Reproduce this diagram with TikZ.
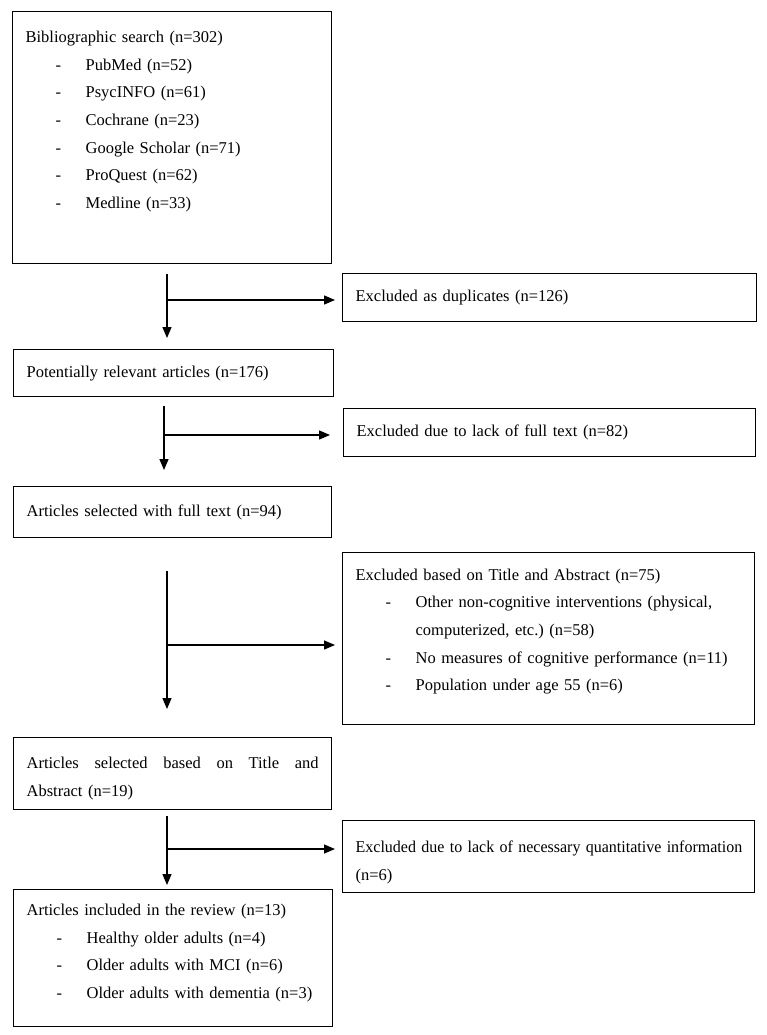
\documentclass[tikz,border=0pt]{standalone}
\usepackage{fontspec}
\setmainfont{Liberation Serif}
\usetikzlibrary{arrows.meta}
\frenchspacing

\newcommand{\listline}[1]{\hspace*{30pt}\makebox[30pt][l]{-}#1}

\tikzset{
	box/.style={draw, line width=1.3pt, anchor=north west, align=left,
		inner xsep=13pt, inner ysep=0pt,
		font=\fontsize{16.5}{27.7}\selectfont},
	flow/.style={line width=1.3pt, -{Triangle[length=11pt,width=9pt]}}
}

\begin{document}
\begin{tikzpicture}[x=1pt, y=-1pt]
	\useasboundingbox (0,0) rectangle (767,1035);

	% left column
	\node[box, text width=293pt, minimum height=252pt] (search) at (12,11) {Bibliographic search (n=302)\\
		\listline{PubMed (n=52)}\\
		\listline{PsycINFO (n=61)}\\
		\listline{Cochrane (n=23)}\\
		\listline{Google Scholar (n=71)}\\
		\listline{ProQuest (n=62)}\\
		\listline{Medline (n=33)}\\[8pt]
		\mbox{}};
	\node[box, text width=294pt, minimum height=47pt] (relevant) at (13,349) {Potentially relevant articles (n=176)};
	\node[box, text width=292pt, minimum height=51pt] (selected) at (13,486) {Articles selected with full text (n=94)};
	\node[box, text width=292pt, minimum height=72pt] (titleabs) at (13,737) {\mbox{}\\[-6pt]
		Articles\hfill selected\hfill based\hfill on\hfill Title\hfill and\\
		Abstract (n=19)};
	\node[box, text width=293pt, minimum height=137pt] (included) at (13,889) {Articles included in the review (n=13)\\
		\listline{Healthy older adults (n=4)}\\
		\listline{Older adults with MCI (n=6)}\\
		\listline{Older adults with dementia (n=3)}\\[-14pt]
		\mbox{}};

	% right column
	\node[box, text width=388pt, minimum height=48pt] (duplicates) at (342,273) {Excluded as duplicates (n=126)};
	\node[box, text width=386pt, minimum height=48pt] (nofull) at (343,408) {Excluded due to lack of full text (n=82)};
	\node[box, text width=386pt, minimum height=172pt] (excltitle) at (342,552) {Excluded based on Title and Abstract (n=75)\\
		\listline{Other non-cognitive interventions (physical,}\\
		\hspace*{60pt}computerized, etc.) (n=58)\\
		\listline{No measures of cognitive performance (n=11)}\\
		\listline{Population under age 55 (n=6)}\\[-10pt]
		\mbox{}};
	\node[box, text width=386pt, minimum height=72pt] (exclquant) at (342,820) {\mbox{}\\[-4pt]
		\scalebox{0.97}[1]{Excluded due to lack of necessary quantitative information}\\
		(n=6)};

	% branch points
	\coordinate (t1) at (167,300);
	\coordinate (t2) at (164,435);
	\coordinate (t3) at (167,645);
	\coordinate (t4) at (167,849);

	\draw[flow, shorten <=10pt, shorten >=11pt] (search.south -| t1) -- (relevant.north -| t1);
	\draw[flow, shorten >=7pt] (t1) -- (t1 -| duplicates.west);

	\draw[flow, shorten <=9pt, shorten >=16pt] (relevant.south -| t2) -- (selected.north -| t2);
	\draw[flow, shorten >=13pt] (t2) -- (t2 -| nofull.west);

	\draw[flow, shorten <=33pt, shorten >=28pt] (selected.south -| t3) -- (titleabs.north -| t3);
	\draw[flow, shorten >=7pt] (t3) -- (t3 -| excltitle.west);

	\draw[flow, shorten <=6pt, shorten >=4pt] (titleabs.south -| t4) -- (included.north -| t4);
	\draw[flow, shorten >=7pt] (t4) -- (t4 -| exclquant.west);
\end{tikzpicture}
\end{document}
